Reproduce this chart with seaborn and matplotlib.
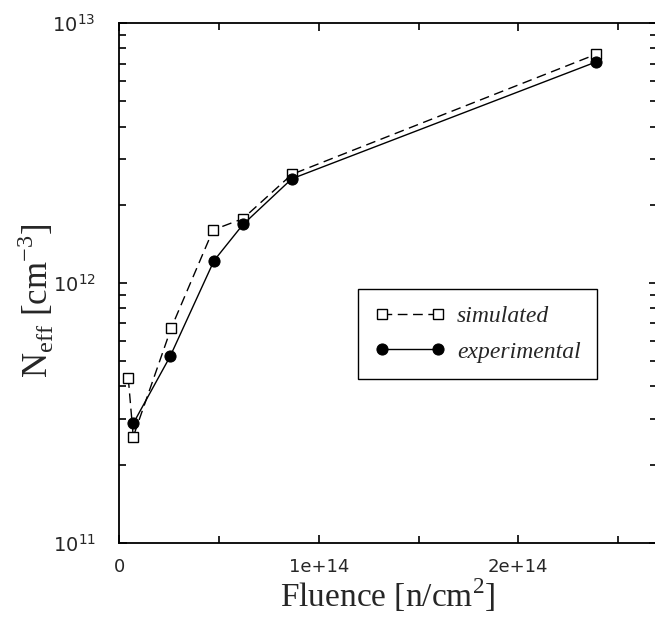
import matplotlib

matplotlib.use('Agg')

import matplotlib.pyplot as plt
import matplotlib.ticker as mticker
import seaborn as sns

# Fluence [n/cm^2] and N_eff [cm^-3]
sim_fluence = [0.45e13, 0.7e13, 2.6e13, 4.7e13, 6.2e13, 8.65e13, 2.39e14]
sim_neff = [4.3e11, 2.56e11, 6.7e11, 1.6e12, 1.77e12, 2.62e12, 7.6e12]

exp_fluence = [0.7e13, 2.55e13, 4.75e13, 6.2e13, 8.65e13, 2.39e14]
exp_neff = [2.88e11, 5.22e11, 1.22e12, 1.68e12, 2.52e12, 7.1e12]

x_ticks = [0, 1e14, 2e14]
x_tick_labels = ['0', '1e+14', '2e+14']

sns.set_style('ticks')
plt.rcParams['font.family'] = ['DejaVu Sans']
plt.rcParams['axes.linewidth'] = 1.3

W, H = 655, 617
fig = plt.figure(figsize=(W / 100, H / 100), dpi=100)

left, right, top, bottom = 119.3, 656.5, 23.3, 542.7
ax = fig.add_axes([
    left / W,
    1 - bottom / H,
    (right - left) / W,
    (bottom - top) / H,
])

sns.lineplot(
    x=sim_fluence,
    y=sim_neff,
    color='black',
    linewidth=1.0,
    linestyle=(0, (7, 4)),
    marker='s',
    markersize=7,
    markerfacecolor='white',
    markeredgecolor='black',
    markeredgewidth=1.0,
    label='simulated',
    ax=ax,
)

sns.lineplot(
    x=exp_fluence,
    y=exp_neff,
    color='black',
    linewidth=1.0,
    marker='o',
    markersize=8,
    markerfacecolor='black',
    markeredgecolor='black',
    label='experimental',
    ax=ax,
)

ax.set_yscale('log')
ax.set_ylim(1e11, 1e13)
ax.set_xlim(0, (right - left) / 199.5 * 1e14)

ax.xaxis.set_major_locator(mticker.FixedLocator(x_ticks))
ax.xaxis.set_major_formatter(mticker.FixedFormatter(x_tick_labels))
ax.xaxis.set_minor_locator(mticker.MultipleLocator(5e13))
ax.yaxis.set_major_locator(mticker.LogLocator(base=10, numticks=5))
ax.yaxis.set_minor_locator(
    mticker.LogLocator(base=10, subs=range(2, 10), numticks=20)
)

ax.tick_params(
    which='both',
    direction='in',
    top=True,
    right=True,
    width=1.2,
    color='black',
)
ax.tick_params(which='major', length=6, labelsize=13, pad=11)
ax.tick_params(which='minor', length=5)
ax.tick_params(axis='y', which='major', labelsize=14, pad=17)

for side in ['left', 'top', 'bottom']:
    ax.spines[side].set_color('black')
ax.spines['right'].set_visible(False)

ax.set_xlabel(
    'Fluence [n/cm$^{\\mathdefault{2}}$]',
    fontsize=24,
    family='Liberation Serif',
)
ax.xaxis.set_label_coords(0.5, -(576 - bottom) / (bottom - top))

ax.set_ylabel(
    'N$_{\\mathdefault{eff}}$ [cm$^{\\mathdefault{-3}}$]',
    fontsize=25,
    family='Liberation Serif',
)
ax.yaxis.set_label_coords(-(left - 56) / (right - left), (bottom - 301) / (bottom - top))

leg = ax.legend(
    loc='upper left',
    bbox_to_anchor=(358 / W, 1 - 289 / H),
    bbox_transform=fig.transFigure,
    borderaxespad=0,
    fancybox=False,
    edgecolor='black',
    framealpha=1,
    numpoints=2,
    handlelength=3.0,
    handletextpad=0.5,
    borderpad=0.7,
    labelspacing=0.6,
    prop={'family': 'Liberation Serif', 'style': 'italic', 'size': 17},
)
leg.get_frame().set_linewidth(1.0)

fig.savefig('out.png', dpi=100)
